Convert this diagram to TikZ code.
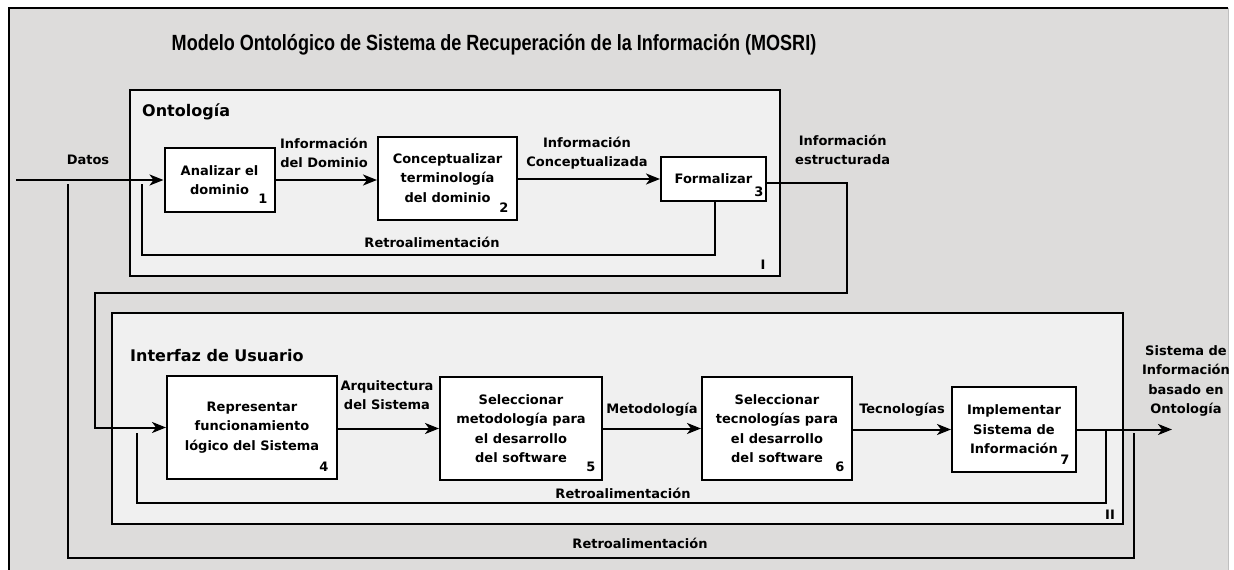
\documentclass[tikz,border=0pt]{standalone}
\usepackage{fontspec}
\setmainfont{DejaVu Sans}
\newfontfamily\titlefont{Liberation Sans}
\usetikzlibrary{arrows.meta,calc}
\definecolor{bgout}{HTML}{DDDCDB}
\definecolor{bgin}{HTML}{F0F0F0}
\tikzset{
 lblfont/.style={font=\bfseries\fontsize{13}{19.5}\selectfont},
 box/.style={draw=black,line width=2pt,fill=white,align=center,lblfont,inner sep=0pt},
 grp/.style={draw=black,line width=2pt,fill=bgin},
 grplbl/.style={font=\bfseries\fontsize{16}{19}\selectfont,inner sep=0pt,anchor=west},
 lbl/.style={lblfont,align=center,inner sep=0pt},
 num/.style={lblfont,inner sep=0pt},
 conn/.style={line width=2pt},
 arr/.style={conn,-{Stealth[length=14pt,width=11pt,inset=4pt]}},
}
\begin{document}
\begin{tikzpicture}[x=1pt,y=-1pt]
\useasboundingbox (0,0) rectangle (1234,570);
\fill[bgout] (9,8) rectangle (1228,570);
\draw[line width=1pt,black!25] (1228,8) -- (1228,570);
\draw[line width=2.4pt] (9,570) -- (9,8) -- (1228,8);

% title
\node[font=\titlefont\bfseries\fontsize{22}{26}\selectfont,anchor=base,inner sep=0pt] (title) at (494,50)
 {\scalebox{0.82}[1]{Modelo Ontológico de Sistema de Recuperación de la Información (MOSRI)}};

% groups
\draw[grp] (130,90) rectangle (780,276);
\draw[grp] (112,313) rectangle (1123,524);
\node[grplbl] (gI) at (142,112) {Ontología};
\node[grplbl] (gII) at (130,356) {Interfaz de Usuario};
\node[num] (rI) at (763,265) {I};
\node[num] (rII) at (1110,515) {II};

% process boxes
\node[box,minimum width=110pt,minimum height=64pt] (b1) at (219.5,180) {Analizar el\\dominio};
\node[box,minimum width=139pt,minimum height=83pt] (b2) at (447.5,178) {Conceptualizar\\terminología\\del dominio};
\node[box,minimum width=105pt,minimum height=44pt] (b3) at (713.5,179) {Formalizar};
\node[box,minimum width=170pt,minimum height=103pt] (b4) at (252,427.5) {Representar\\funcionamiento\\lógico del Sistema};
\node[box,minimum width=162pt,minimum height=103pt] (b5) at (521,428.5) {Seleccionar\\metodología para\\el desarrollo\\del software};
\node[box,minimum width=150pt,minimum height=103pt] (b6) at (777,428.5) {Seleccionar\\tecnologías para\\el desarrollo\\del software};
\node[box,minimum width=124pt,minimum height=85pt] (b7) at (1014,429.5) {Implementar\\Sistema de\\Información};

\node[num] (n1) at (263,199) {1};
\node[num] (n2) at (504,208) {2};
\node[num] (n3) at (759,192) {3};
\node[num] (n4) at (324,467) {4};
\node[num] (n5) at (591,467) {5};
\node[num] (n6) at (840,467) {6};
\node[num] (n7) at (1065,460) {7};

% labels
\node[lbl] (lDatos) at (88,160) {Datos};
\node[lbl] (lDom) at (324,153) {Información\\del Dominio};
\node[lbl] (lCon) at (587,153) {Información\\Conceptualizada};
\node[lbl,anchor=west] (lEst) at (795,150) {Información\\estructurada};
\node[lbl] (lArq) at (387,395) {Arquitectura\\del Sistema};
\node[lbl] (lMet) at (652,410) {Metodología};
\node[lbl] (lTec) at (902,410) {Tecnologías};
\node[lbl] (lOut) at (1186,381) {Sistema de\\Información\\basado en\\Ontología};
\node[lbl] (lR1) at (432,242) {Retroalimentación};
\node[lbl] (lR2) at (623,493) {Retroalimentación};
\node[lbl] (lR3) at (640,543) {Retroalimentación};

% coordinates
\coordinate (din) at (16,180);
\coordinate (fb1end) at (142,184);
\coordinate (fb2end) at (137,433);
\coordinate (fb3end) at (68,184);
\coordinate (out) at (1172,429.5);

% connectors
\draw[arr] (din) -- (b1.west);
\draw[arr] (b1.east) -- (b1.east -| b2.west);
\draw[arr] (b2.east |- b3.west) -- (b3.west);
\draw[conn] ([xshift=1.5pt]b3.south) -- ([xshift=1.5pt]b3.south |- 0,255) -- (142,255) -- (fb1end);
\draw[arr] ([yshift=-4pt]b3.east) -- (847,183) -- (847,293) -- (95,293) -- (95,427.5) -- (b4.west);
\draw[arr] (b4.east |- b5.west) -- (b5.west);
\draw[arr] (b5.east) -- (b6.west);
\draw[arr] (b6.east |- b7.west) -- (b7.west);
\draw[arr] (b7.east) -- (out);
\draw[conn] (1106,429.5) -- (1106,503) -- (137,503) -- (fb2end);
\draw[conn] (1134,433) -- (1134,558) -- (68,558) -- (fb3end);
\end{tikzpicture}
\end{document}
